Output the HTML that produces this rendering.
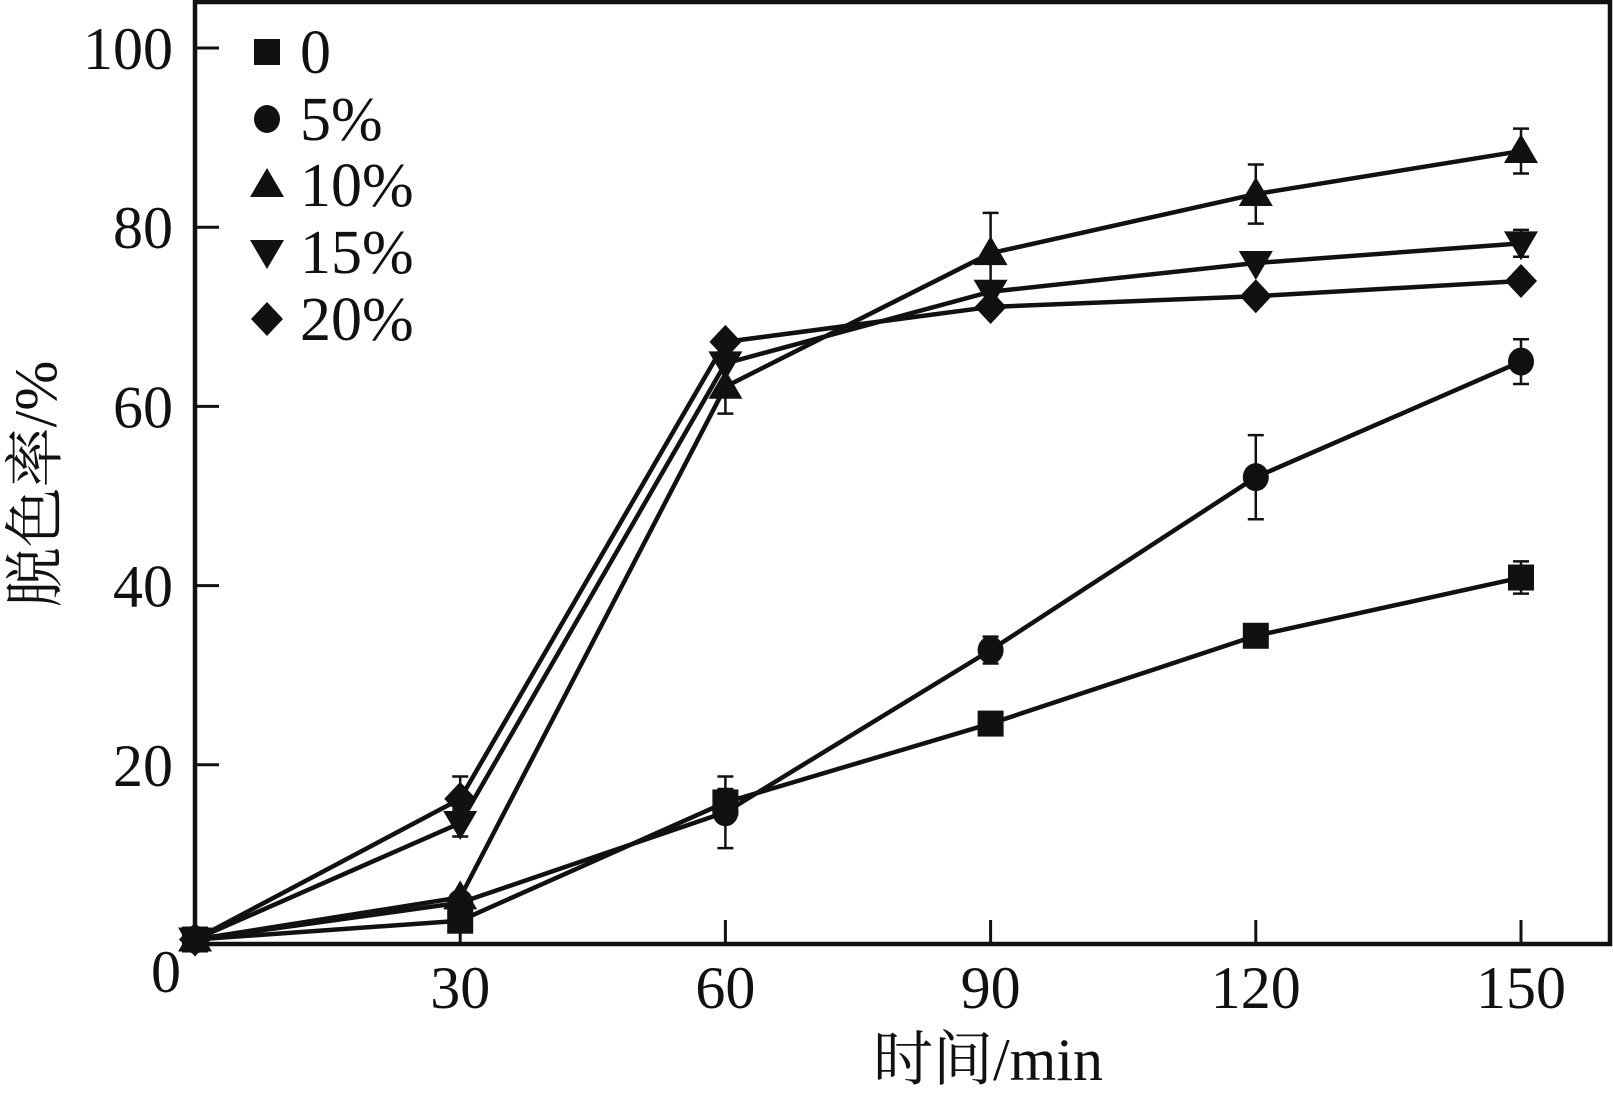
<!DOCTYPE html>
<html><head><meta charset="utf-8"><style>
html,body{margin:0;padding:0;background:#fff}
svg{display:block}
text{font-family:"Liberation Serif","Noto Serif CJK SC",serif;fill:#111}
</style></head><body>
<svg id="chart" width="1613" height="1101" viewBox="0 0 1613 1101"></svg>
<script>
const categories=[0,30,60,90,120,150];
const seriesNames=["0","5%","10%","15%","20%"];
const seriesMarkers=["square","circle","triangle","down","diamond"];
const s0=[0.5,2.6,15.8,24.6,34.4,40.9];
const s5=[0.5,4.6,14.7,32.8,52.1,65.0];
const s10=[0.5,5.2,62.2,77.1,83.7,88.5];
const s15=[0.5,13.5,64.8,72.8,76.0,78.2];
const s20=[0.5,16.2,67.2,71.1,72.3,74.0];
const e0=[0,0,1.5,0,0,1.8];
const e5=[0,0,4.0,1.5,4.7,2.5];
const e10=[0,0,3.0,4.5,3.3,2.5];
const e15=[0,1.5,0,0,0,1.5];
const e20=[0,2.5,0,0,0,0];
const xTicks=[30,60,90,120,150];
const yTicks=[20,40,60,80,100];
const allSeries=[s0,s5,s10,s15,s20];
const allErr=[e0,e5,e10,e15,e20];

const X0=195,X1=1610,Y0=944,Y1=2;
const xs=v=>195+v*(1521-195)/150;
const ys=v=>944-v*(944-48)/100;
const NS="http://www.w3.org/2000/svg";
const svg=document.getElementById('chart');
function mk(t,a,p){const e=document.createElementNS(NS,t);for(const k in a)e.setAttribute(k,a[k]);(p||svg).appendChild(e);return e;}

const frame=mk('rect',{x:X0,y:Y1,width:X1-X0,height:Y0-Y1,fill:'none',stroke:'#111','stroke-width':4.5});



xTicks.forEach(v=>{
  const l=mk('line',{x1:xs(v),x2:xs(v),y1:Y0,y2:Y0-24,stroke:'#111','stroke-width':3});
  
  
  const t=mk('text',{x:xs(v),y:1008,'font-size':60,'text-anchor':'middle'});
  t.textContent=v;
  
  
});
yTicks.forEach(v=>{
  const l=mk('line',{x1:X0,x2:X0+24,y1:ys(v),y2:ys(v),stroke:'#111','stroke-width':3});
  
  
  const t=mk('text',{x:173,y:ys(v)+21,'font-size':60,'text-anchor':'end'});
  t.textContent=v;
  
  
});
const z=mk('text',{x:166,y:992,'font-size':60,'text-anchor':'middle'});z.textContent='0';



const xl=mk('text',{x:988,y:1080,'font-size':60,'text-anchor':'middle'});xl.textContent='时间/min';


const yl=mk('text',{x:0,y:0,'font-size':60,'text-anchor':'middle',transform:'translate(56,484) rotate(-90)'});yl.textContent='脱色率/%';



function marker(kind,x,y,r,g){
  let e;
  if(kind==='square')e=mk('rect',{x:x-13,y:y-13,width:26,height:26,fill:'#111'},g);
  else if(kind==='circle')e=mk('ellipse',{cx:x,cy:y,rx:13,ry:14,fill:'#111'},g);
  else if(kind==='triangle')e=mk('polygon',{points:`${x},${y-17} ${x-17},${y+12} ${x+17},${y+12}`,fill:'#111'},g);
  else if(kind==='down')e=mk('polygon',{points:`${x},${y+17} ${x-17},${y-12} ${x+17},${y-12}`,fill:'#111'},g);
  else e=mk('polygon',{points:`${x},${y-17} ${x+16},${y} ${x},${y+17} ${x-16},${y}`,fill:'#111'},g);
  return e;
}

allSeries.forEach((s,i)=>{
  const g=mk('g',{});
  
  
  const pts=s.map((v,j)=>xs(categories[j])+','+ys(v)).join(' ');
  const pl=mk('polyline',{points:pts,fill:'none',stroke:'#111','stroke-width':4.5,'stroke-linejoin':'round'},g);
  
  
  s.forEach((v,j)=>{
    const er=allErr[i][j],x=xs(categories[j]);
    if(er>0){
      const eb=mk('path',{d:`M${x},${ys(v+er)}V${ys(v-er)}M${x-8},${ys(v+er)}h16M${x-8},${ys(v-er)}h16`,stroke:'#111','stroke-width':2.5,fill:'none'},g);
      
      
    }
    const m=marker(seriesMarkers[i],x,ys(v),13,g);
    
    
  });
});

const legY=[52,119,185,252,319];
seriesNames.forEach((n,i)=>{
  const g=mk('g',{});
  
  
  marker(seriesMarkers[i],267,legY[i],13,g);
  const t=mk('text',{x:300,y:legY[i]+21,'font-size':62},g);t.textContent=n;
});
</script>
</body></html>
